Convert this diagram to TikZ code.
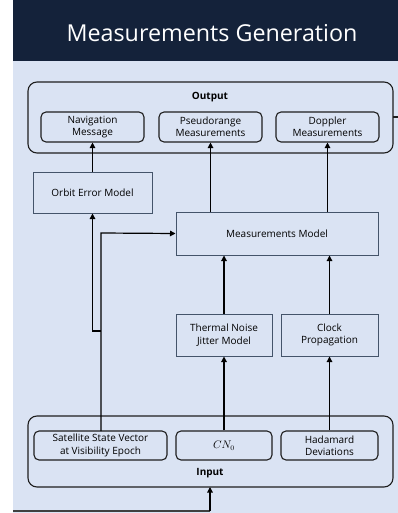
\documentclass[tikz,border=0pt]{standalone}
\usepackage{fontspec}
\setmainfont{Open Sans}
\usetikzlibrary{arrows.meta,calc}
\definecolor{hdr}{HTML}{14223A}
\definecolor{bgblue}{HTML}{DAE3F3}
\definecolor{slate}{HTML}{44546A}
\definecolor{ink}{HTML}{1E1E1E}
\tikzset{
  rbox/.style={draw=ink, line width=1.1pt, rounded corners=5pt, fill=bgblue, align=center, inner sep=0pt, font=\fontsize{10}{12.5}\selectfont},
  sbox/.style={draw=slate, line width=1pt, fill=bgblue, align=center, inner sep=0pt, font=\fontsize{10}{12.5}\selectfont},
  group/.style={draw=ink, line width=1.1pt, rounded corners=9pt},
  arr/.style={draw=black, line width=1.2pt, -{Triangle[length=5.5pt,width=5.5pt]}},
  lbl/.style={font=\bfseries\fontsize{10}{11}\selectfont}
}
\begin{document}
\begin{tikzpicture}[x=1pt,y=-1pt]
\useasboundingbox (0,0) rectangle (398,513);
\fill[white] (0,0) rectangle (398,513);
\fill[bgblue] (13,61) rectangle (398,513);
\fill[hdr] (13,0) rectangle (398,61);
\node[text=white, font=\fontsize{23.3}{26}\selectfont] (title) at (212,33) {Measurements Generation};
% groups
\draw[group] (28,82) rectangle (393,153);
\coordinate (outR) at (393,117);
\coordinate (outEnd) at (398,117);
\draw[ink, line width=1.1pt] (outR) -- (outEnd);
\node[lbl] (outlbl) at (210,97) {Output};
\draw[group] (28,416) rectangle (393,487);
\node[lbl] (inlbl) at (210,473) {Input};
% output boxes
\node[rbox, minimum width=103pt, minimum height=30pt] (nav) at (92.5,127) {Navigation\\Message};
\node[rbox, minimum width=103pt, minimum height=30pt] (pseudo) at (210.5,127) {Pseudorange\\Measurements};
\node[rbox, minimum width=103pt, minimum height=30pt] (doppler) at (327.5,127) {Doppler\\Measurements};
% models
\node[sbox, minimum width=119pt, minimum height=41pt] (orbit) at (92.5,192.5) {Orbit Error Model};
\node[sbox, minimum width=202pt, minimum height=43pt] (mm) at (277,233.5) {Measurements Model};
\node[sbox, minimum width=96pt, minimum height=42pt] (thermal) at (224,335) {Thermal Noise\\Jitter Model};
\node[sbox, minimum width=97pt, minimum height=42pt] (clock) at (329.5,335) {Clock\\Propagation};
% input boxes
\node[rbox, minimum width=133pt, minimum height=29pt] (sat) at (100.5,445.5) {Satellite State Vector\\at Visibility Epoch};
\node[rbox, minimum width=96pt, minimum height=29pt, font=\fontsize{10.5}{12}\selectfont] (cn) at (224,445.5) {$CN_0$};
\node[rbox, minimum width=97pt, minimum height=29pt] (had) at (329.5,445.5) {Hadamard\\Deviations};
% connectors
\draw[arr] (orbit) -- (nav);
\draw[arr] (mm.north -| pseudo.south) -- (pseudo.south);
\draw[arr] (mm.north -| doppler.south) -- (doppler.south);
\draw[arr] (thermal) -- (mm.south -| thermal.north);
\draw[arr] (clock) -- (mm.south -| clock.north);
\draw[arr] (cn) -- (thermal);
\draw[arr] (had) -- (clock);
\coordinate (satT) at (101,431);
\coordinate (bend) at (101,233);
\coordinate (jogA) at (101,331);
\coordinate (jogB) at (92.5,331);
\draw[arr] (satT) -- (bend) -- (mm.west);
\draw[arr] (jogA) -- (jogB) -- (orbit.south);
\coordinate (bl) at (13,511);
\coordinate (bm) at (210,511);
\draw[draw=black!75, line width=2pt] (bl) -- (bm);
\draw[arr] (bm) -- (210,487);
\end{tikzpicture}
\end{document}
